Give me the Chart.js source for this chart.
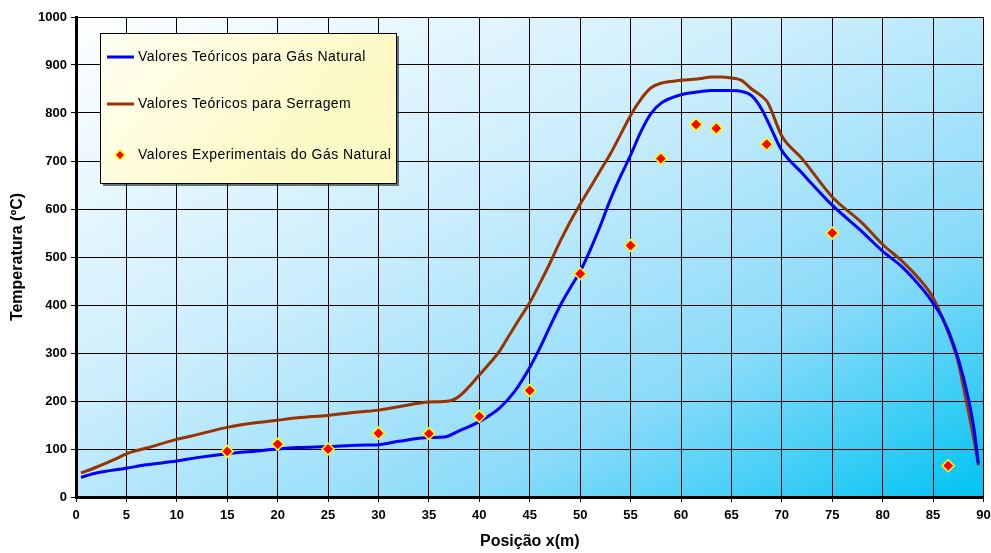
<!DOCTYPE html>
<html>
<head>
<meta charset="utf-8">
<script src="https://cdn.jsdelivr.net/npm/chart.js@4"></script>
<style>
  html, body { margin: 0; padding: 0; background: #fff; }
  #wrap { width: 991px; height: 553px; }
</style>
</head>
<body>
<div id="wrap"><canvas id="myChart"></canvas></div>
<script>
// posição x (m) e temperatura (ºC)
const gasX = [0.5, 2, 5, 7, 10, 12, 15, 18, 20, 22, 25, 28, 30, 32, 35, 36.5, 38, 40, 42, 43.5, 45, 46, 47, 48, 49, 50, 51, 52, 53, 54, 55, 56, 57, 58, 60, 62, 63, 65, 66, 67, 68, 69, 70, 72, 75, 78, 80, 82, 84, 85, 86, 87, 88, 89, 89.5];
const gasY = [41, 50, 60, 67, 75, 82, 90, 96, 100, 103, 105, 108, 109, 116, 124, 125, 138, 157, 185, 220, 270, 310, 355, 398, 435, 470, 515, 565, 620, 668, 712, 760, 798, 820, 838, 845, 847, 847, 845, 836, 808, 765, 722, 675, 608, 552, 512, 478, 432, 404, 370, 320, 250, 150, 70];
const serX = [0.5, 2, 4, 5, 7, 10, 12, 15, 18, 20, 22, 25, 28, 30, 32, 35, 37, 38, 40, 41, 42, 43, 44, 45, 46, 47, 48, 49, 50, 51, 52, 53, 54, 55, 56, 57, 58, 60, 62, 63, 64, 65, 66, 67, 68, 68.6, 70, 72, 75, 78, 80, 82, 84, 85, 86.4, 87.5, 88, 89, 89.5];
const serY = [50, 62, 80, 90, 102, 120, 130, 145, 155, 160, 165, 170, 177, 181, 188, 198, 200, 210, 254, 278, 304, 338, 372, 405, 445, 487, 532, 573, 610, 645, 680, 715, 755, 795, 828, 852, 862, 868, 872, 875, 875, 873, 868, 850, 835, 822, 752, 705, 625, 570, 526, 490, 445, 415, 348, 280, 230, 125, 66];
const expX = [15, 20, 25, 30, 35, 40, 45, 50, 55, 58, 61.5, 63.5, 68.5, 75, 86.5];
const expY = [95, 110, 100, 133, 132, 168, 222, 465, 524, 705, 776, 768, 735, 550, 65];

const xTicks = [0, 5, 10, 15, 20, 25, 30, 35, 40, 45, 50, 55, 60, 65, 70, 75, 80, 85, 90];
const yTicks = [0, 100, 200, 300, 400, 500, 600, 700, 800, 900, 1000];

const labels = [
  "Valores Teóricos para Gás Natural",
  "Valores Teóricos para Serragem",
  "Valores Experimentais do Gás Natural"
];

const toPts = (xs, ys) => xs.map((x, i) => ({ x: x, y: ys[i] }));
const FONT = "'Liberation Sans', Arial, sans-serif";

// fundo degradê da área do gráfico
const bgPlugin = {
  id: "bgGrad",
  beforeDraw(chart) {
    const { ctx, chartArea: a } = chart;
    const w = a.right - a.left, h = a.bottom - a.top;
    const k = (2 * w * h) / (w * w + h * h);
    const g = ctx.createLinearGradient(a.left, a.top, a.left + k * h, a.top + k * w);
    g.addColorStop(0, "#ffffff");
    g.addColorStop(0.4, "#cdeefc");
    g.addColorStop(0.72, "#8adbf9");
    g.addColorStop(1, "#00c3f3");
    ctx.save();
    ctx.fillStyle = g;
    ctx.fillRect(a.left, a.top, w, h);
    ctx.restore();
  }
};

// legenda desenhada dentro da área
const legendPlugin = {
  id: "boxLegend",
  afterDraw(chart) {
    const ctx = chart.ctx;
    const x = 100, y = 33, w = 296, h = 150;
    ctx.save();
    ctx.fillStyle = "rgba(0,0,0,0.55)";
    ctx.fillRect(x + 3, y + 3, w, h);
    const g = ctx.createLinearGradient(x, y, x + w * 0.6, y + h);
    g.addColorStop(0, "#fffff2");
    g.addColorStop(1, "#fdf9c4");
    ctx.fillStyle = g;
    ctx.fillRect(x, y, w, h);
    ctx.strokeStyle = "#000";
    ctx.lineWidth = 1;
    ctx.strokeRect(x + 0.5, y + 0.5, w, h);

    ctx.font = "14px " + FONT;
    ctx.letterSpacing = "0.45px";
    ctx.textBaseline = "middle";
    const rows = [57, 104, 155];
    const ds = chart.data.datasets;
    for (let i = 0; i < 2; i++) {
      ctx.strokeStyle = ds[i].borderColor;
      ctx.lineWidth = 3;
      ctx.beginPath();
      ctx.moveTo(107, rows[i]);
      ctx.lineTo(134, rows[i]);
      ctx.stroke();
    }
    // marcador
    ctx.beginPath();
    ctx.moveTo(120, rows[2] - 5);
    ctx.lineTo(125, rows[2]);
    ctx.lineTo(120, rows[2] + 5);
    ctx.lineTo(115, rows[2]);
    ctx.closePath();
    ctx.fillStyle = "#ff0000";
    ctx.fill();
    ctx.strokeStyle = "#ffff00";
    ctx.lineWidth = 1.5;
    ctx.stroke();

    ctx.fillStyle = "#000";
    ds.forEach((d, i) => ctx.fillText(d.label, 138, rows[i]));
    ctx.restore();
  }
};

new Chart(document.getElementById("myChart"), {
  type: "scatter",
  data: {
    datasets: [
      {
        label: labels[0],
        data: toPts(gasX, gasY),
        showLine: true,
        borderColor: "#0000ff",
        borderWidth: 3,
        pointRadius: 0,
        cubicInterpolationMode: "monotone",
        order: 2
      },
      {
        label: labels[1],
        data: toPts(serX, serY),
        showLine: true,
        borderColor: "#993300",
        borderWidth: 3,
        pointRadius: 0,
        cubicInterpolationMode: "monotone",
        order: 3
      },
      {
        label: labels[2],
        data: toPts(expX, expY),
        showLine: false,
        pointStyle: "rectRot",
        pointRadius: 6,
        pointBackgroundColor: "#ff0000",
        pointBorderColor: "#ffff00",
        pointBorderWidth: 1.5,
        order: 1
      }
    ]
  },
  options: {
    responsive: true,
    maintainAspectRatio: false,
    animation: false,
    layout: { padding: { top: 17, right: 5, left: 6, bottom: 2 } },
    plugins: {
      legend: { display: false },
      tooltip: { enabled: false }
    },
    scales: {
      x: {
        type: "linear",
        min: 0,
        max: 90,
        afterBuildTicks: (s) => { s.ticks = xTicks.map(v => ({ value: v })); },
        afterFit: (s) => { s.height = 54; s.paddingRight = 0; s.paddingLeft = 0; },
        grid: { color: "#000", lineWidth: 1, tickLength: 5 },
        border: { color: "#000", width: 3 },
        ticks: {
          color: "#000",
          padding: 6,
          maxRotation: 0,
          callback: (v) => String(v),
          font: { family: FONT, size: 13, weight: "bold" }
        },
        title: {
          display: true,
          text: "Posição x(m)",
          color: "#000",
          padding: 0,
          font: { family: FONT, size: 16, weight: "bold" }
        }
      },
      y: {
        min: 0,
        max: 1000,
        afterBuildTicks: (s) => { s.ticks = yTicks.map(v => ({ value: v })); },
        afterFit: (s) => { s.width = 70; s.paddingTop = 0; s.paddingBottom = 0; },
        grid: { color: "#000", lineWidth: 1, tickLength: 5 },
        border: { color: "#000", width: 3 },
        ticks: {
          color: "#000",
          padding: 4,
          callback: (v) => String(v),
          font: { family: FONT, size: 13, weight: "bold" }
        },
        title: {
          display: true,
          text: "Temperatura (ºC)",
          color: "#000",
          padding: 2,
          font: { family: FONT, size: 16, weight: "bold" }
        }
      }
    }
  },
  plugins: [bgPlugin, legendPlugin]
});
</script>
</body>
</html>
